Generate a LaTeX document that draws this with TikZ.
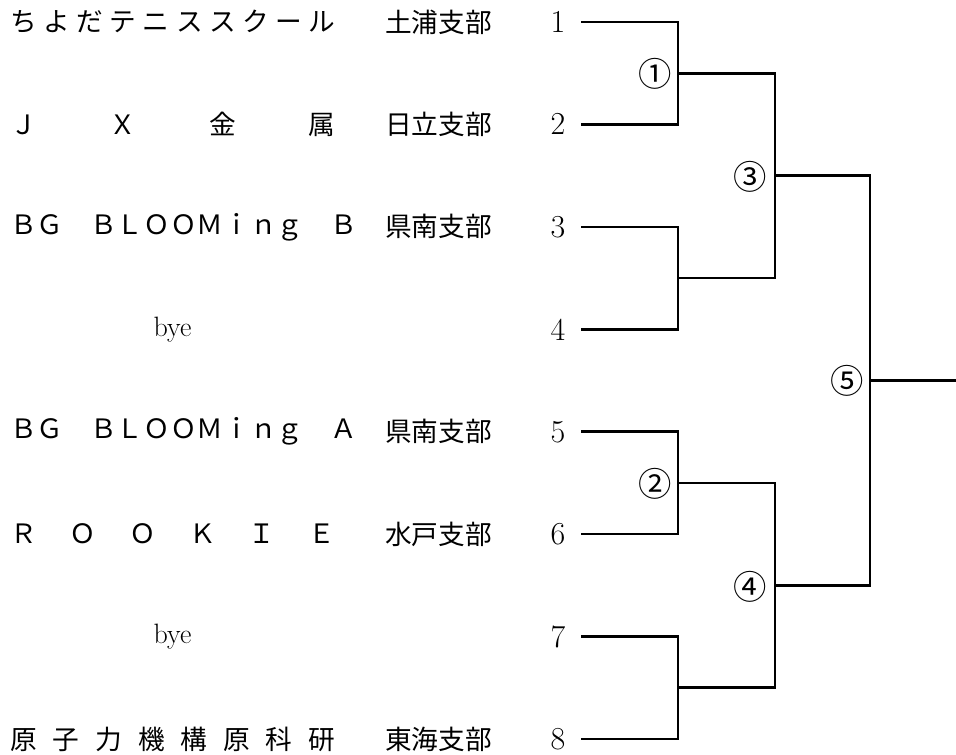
\documentclass[tikz,border=0pt]{standalone}
\usepackage{fontspec}
\newfontfamily\jpfont{Noto Sans CJK JP}
% 均等割り付け
\def\spreadA#1{\ifx#1\relax\else#1\expandafter\spreadB\fi}
\def\spreadB#1{\ifx#1\relax\else\hfill#1\expandafter\spreadB\fi}
\newcommand{\kintou}[1]{\makebox[243.75pt][s]{\spreadA#1\relax}}

\begin{document}
\begin{tikzpicture}[
x=0.75pt, y=-0.75pt,
every node/.style={font=\fontsize{20}{24}\selectfont, inner sep=0pt},
team/.style={anchor=west, font=\fontsize{20}{24}\selectfont\jpfont},
branch/.style={anchor=west, font=\fontsize{20}{24}\selectfont\jpfont},
bye/.style={font=\fontsize{21}{25}\selectfont},
seed/.style={font=\fontsize{24}{28}\selectfont},
matchlabel/.style={font=\fontsize{25}{30}\selectfont\jpfont},
bracket/.style={line width=2pt}
]
\useasboundingbox (0,0) rectangle (956,755);
% チーム
\node[team] (team1) at (10,22) {\kintou{ちよだテニススクール}};
\node[team] (team2) at (10,124.4) {\kintou{ＪＸ金属}};
\node[team] (team3) at (10,226.9) {\kintou{ＢＧ　ＢＬＯＯＭｉｎｇ　Ｂ}};
\node[bye] (team4) at (172.5,329.3) {bye};
\node[team] (team5) at (10,431.7) {\kintou{ＢＧ　ＢＬＯＯＭｉｎｇ　Ａ}};
\node[team] (team6) at (10,534.1) {\kintou{ＲＯＯＫＩＥ}};
\node[bye] (team7) at (172.5,636.6) {bye};
\node[team] (team8) at (10,739) {\kintou{原子力機構原科研}};
% 支部
\node[branch] (branch1) at (385,22) {土浦支部};
\node[branch] (branch2) at (385,124.4) {日立支部};
\node[branch] (branch3) at (385,226.9) {県南支部};
\node[branch] (branch5) at (385,431.7) {県南支部};
\node[branch] (branch6) at (385,534.1) {水戸支部};
\node[branch] (branch8) at (385,739) {東海支部};
% 番号
\node[seed] (seed1) at (558,22) {1};
\node[seed] (seed2) at (558,124.4) {2};
\node[seed] (seed3) at (558,226.9) {3};
\node[seed] (seed4) at (558,329.3) {4};
\node[seed] (seed5) at (558,431.7) {5};
\node[seed] (seed6) at (558,534.1) {6};
\node[seed] (seed7) at (558,636.6) {7};
\node[seed] (seed8) at (558,739) {8};
% 線の始点
\coordinate (start1) at (581,22);
\coordinate (start2) at (581,124.4);
\coordinate (start3) at (581,226.9);
\coordinate (start4) at (581,329.3);
\coordinate (start5) at (581,431.7);
\coordinate (start6) at (581,534.1);
\coordinate (start7) at (581,636.6);
\coordinate (start8) at (581,739);
% 試合
\coordinate (match1) at (678,73.2);
\coordinate (match34) at (678,278.1);
\coordinate (match2) at (678,482.9);
\coordinate (match78) at (678,687.8);
\coordinate (match3) at (775,175.6);
\coordinate (match4) at (775,585.4);
\coordinate (match5) at (870,380.5);
\coordinate (winner) at (956,380.5);
\node[matchlabel] (label1) at (655,74) {①};
\node[matchlabel] (label2) at (655,484) {②};
\node[matchlabel] (label3) at (750,177) {③};
\node[matchlabel] (label4) at (750,587) {④};
\node[matchlabel] (label5) at (847,381) {⑤};
% トーナメント線
\draw[bracket] (start1) -| (match1) |- (start2);
\draw[bracket] (start3) -| (match34) |- (start4);
\draw[bracket] (start5) -| (match2) |- (start6);
\draw[bracket] (start7) -| (match78) |- (start8);
\draw[bracket] (match1) -| (match3) |- (match34);
\draw[bracket] (match2) -| (match4) |- (match78);
\draw[bracket] (match3) -| (match5) |- (match4);
\draw[bracket] (match5) -- (winner);
\end{tikzpicture}
\end{document}
